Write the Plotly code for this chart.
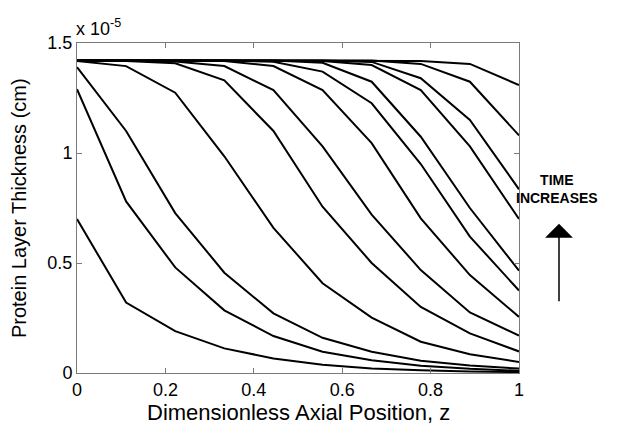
import plotly.graph_objects as go

# Dimensionless axial position (10 grid points)
z = [0, 1/9, 2/9, 3/9, 4/9, 5/9, 6/9, 7/9, 8/9, 1]

# Protein layer thickness, in units of 1e-5 cm, one profile per time snapshot
SCALE = 1e-5
t01 = [0.70, 0.32, 0.19, 0.112, 0.066, 0.037, 0.021, 0.012, 0.007, 0.004]
t02 = [1.29, 0.78, 0.48, 0.285, 0.168, 0.097, 0.058, 0.033, 0.019, 0.010]
t03 = [1.39, 1.10, 0.727, 0.456, 0.271, 0.160, 0.097, 0.056, 0.034, 0.020]
t04 = [1.418, 1.395, 1.274, 0.985, 0.660, 0.408, 0.252, 0.142, 0.085, 0.050]
t05 = [1.42, 1.418, 1.408, 1.330, 1.100, 0.756, 0.500, 0.300, 0.180, 0.098]
t06 = [1.42, 1.42, 1.416, 1.395, 1.286, 1.030, 0.720, 0.468, 0.275, 0.170]
t07 = [1.42, 1.42, 1.42, 1.418, 1.395, 1.286, 1.045, 0.703, 0.445, 0.255]
t08 = [1.42, 1.42, 1.42, 1.42, 1.415, 1.370, 1.226, 0.950, 0.620, 0.375]
t09 = [1.42, 1.42, 1.42, 1.42, 1.42, 1.410, 1.324, 1.074, 0.750, 0.465]
t10 = [1.42, 1.42, 1.42, 1.42, 1.42, 1.418, 1.400, 1.286, 1.030, 0.700]
t11 = [1.42, 1.42, 1.42, 1.42, 1.42, 1.42, 1.414, 1.340, 1.150, 0.835]
t12 = [1.42, 1.42, 1.42, 1.42, 1.42, 1.42, 1.42, 1.405, 1.324, 1.080]
t13 = [1.42, 1.42, 1.42, 1.42, 1.42, 1.42, 1.42, 1.418, 1.405, 1.309]
profiles = [t01, t02, t03, t04, t05, t06, t07, t08, t09, t10, t11, t12, t13]

x_ticks = [0, 0.2, 0.4, 0.6, 0.8, 1]
x_labels = ["0", "0.2", "0.4", "0.6", "0.8", "1"]
y_ticks = [0, 0.5, 1.0, 1.5]
y_labels = ["0", "0.5", "1", "1.5"]

FONT = "Arial, Liberation Sans, sans-serif"

fig = go.Figure()
for p in profiles:
    fig.add_trace(go.Scatter(
        x=z, y=[v * SCALE for v in p], mode="lines",
        line=dict(color="black", width=2), showlegend=False, hoverinfo="skip"))

axis_common = dict(
    showgrid=False, zeroline=False, showline=True, linecolor="#7a7a7a", linewidth=1,
    mirror="allticks", ticks="inside", ticklen=5, tickcolor="#7a7a7a", tickwidth=1,
    tickfont=dict(family=FONT, size=18, color="black"), automargin=False,
)

# page body has an 8px margin, so the figure is drawn 8px smaller and offset
fig.update_layout(
    width=613, height=421,
    margin=dict(l=69, r=102, t=35, b=56),
    paper_bgcolor="white", plot_bgcolor="white",
    font=dict(family=FONT, color="black"),
    xaxis=dict(range=[0, 1], tickvals=x_ticks, ticktext=x_labels, **axis_common),
    yaxis=dict(range=[0, 1.5 * SCALE], tickvals=[v * SCALE for v in y_ticks], ticktext=y_labels,
               **axis_common),
    annotations=[
        dict(x=0.5, y=-0.121, xref="paper", yref="paper", xanchor="center", yanchor="middle",
             text="Dimensionless Axial Position, z", showarrow=False,
             font=dict(family=FONT, size=22, color="black")),
        dict(x=-0.131, y=0.5, xref="paper", yref="paper", xanchor="center", yanchor="middle",
             text="Protein Layer Thickness (cm)", showarrow=False, textangle=-90,
             font=dict(family=FONT, size=20, color="black")),
        dict(x=0, y=1, xref="paper", yref="paper", xanchor="left", yanchor="bottom",
             text="x 10<sup>-5</sup>", showarrow=False, xshift=-3, yshift=2,
             font=dict(family=FONT, size=18, color="black")),
        dict(x=1.086, y=0.558, xref="paper", yref="paper", xanchor="center", yanchor="middle",
             text="<b>TIME<br>INCREASES</b>", showarrow=False,
             font=dict(family=FONT, size=14, color="black")),
        dict(x=1.0905, y=0.452, xref="paper", yref="paper", ax=0, ay=79,
             text="", showarrow=True, arrowhead=1, arrowsize=3.1, arrowwidth=1.5,
             arrowcolor="black"),
    ],
)

fig.write_html("out.html")
